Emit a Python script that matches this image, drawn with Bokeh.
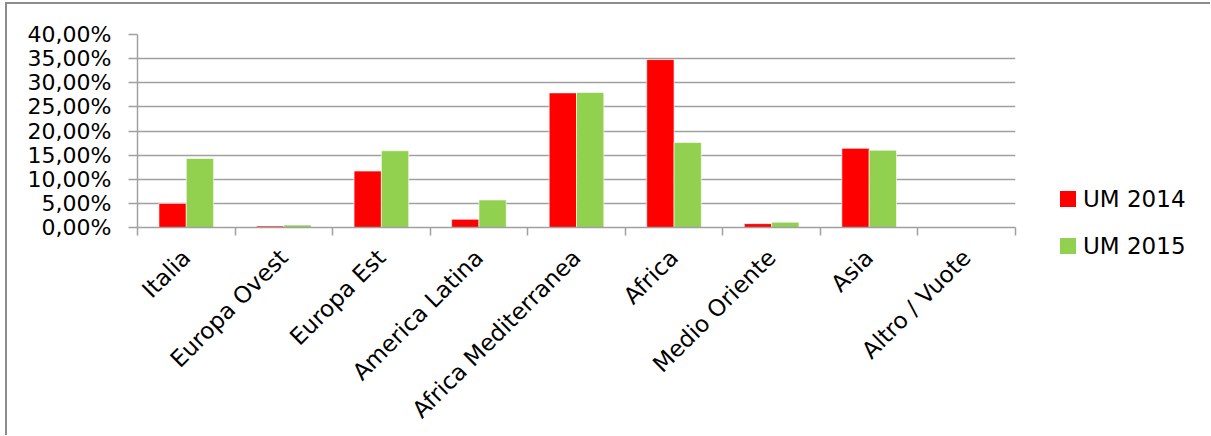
from bokeh.plotting import figure
from bokeh.models import ColumnDataSource, FixedTicker, Div
from bokeh.layouts import row
from bokeh.transform import dodge
from bokeh.embed import file_html
from bokeh.resources import INLINE
import math

regions = ["Italia", "Europa Ovest", "Europa Est", "America Latina", "Africa Mediterranea",
           "Africa", "Medio Oriente", "Asia", "Altro / Vuote"]
um2014 = [5.0, 0.3, 11.7, 1.7, 27.9, 34.8, 0.8, 16.4, 0.0]
um2015 = [14.3, 0.5, 15.9, 5.7, 28.0, 17.6, 1.1, 16.0, 0.0]
series_names = ["UM 2014", "UM 2015"]
series_colors = ["#ff0000", "#92d050"]
y_ticks = [0, 5, 10, 15, 20, 25, 30, 35, 40]
y_tick_labels = ["0,00%", "5,00%", "10,00%", "15,00%", "20,00%", "25,00%", "30,00%", "35,00%", "40,00%"]

FONT = "DejaVu Sans"
GRID = "#a0a0a0"

centers = [i + 0.5 for i in range(len(regions))]
bounds = list(range(len(regions) + 1))
src = ColumnDataSource(dict(x=centers, a=um2014, b=um2015))

p = figure(width=1013, height=431, x_range=(0, len(regions)), y_range=(0, 40),
           output_backend="svg", toolbar_location=None,
           min_border_left=130, min_border_right=5, min_border_top=30, min_border_bottom=208)
p.outline_line_color = None
p.background_fill_color = "white"
p.border_fill_color = "white"

p.vbar(x=dodge("x", -0.14, range=p.x_range), top="a", width=0.28, source=src,
       fill_color=series_colors[0], line_color="#ffffff", line_alpha=0.6, line_width=1)
p.vbar(x=dodge("x", 0.14, range=p.x_range), top="b", width=0.28, source=src,
       fill_color=series_colors[1], line_color="#ffffff", line_alpha=0.6, line_width=1)

# x axis: labels at centers, ticks at category boundaries
xa = p.xaxis[0]
xa.ticker = FixedTicker(ticks=centers, minor_ticks=bounds)
xa.major_label_overrides = {c: n for c, n in zip(centers, regions)}
xa.major_label_orientation = math.pi / 4
xa.major_tick_out = 0
xa.major_tick_in = 0
xa.minor_tick_out = 8
xa.minor_tick_in = 0
xa.minor_tick_line_color = GRID
xa.minor_tick_line_width = 1.5
xa.axis_line_color = GRID
xa.axis_line_width = 1.5
xa.major_label_text_font = FONT
xa.major_label_text_font_size = "23px"
xa.major_label_text_color = "#000000"
xa.major_label_standoff = 18

ya = p.yaxis[0]
ya.ticker = FixedTicker(ticks=y_ticks, minor_ticks=[])
ya.major_label_overrides = {t: l for t, l in zip(y_ticks, y_tick_labels)}
ya.major_tick_out = 9
ya.major_tick_in = 0
ya.major_tick_line_color = GRID
ya.major_tick_line_width = 1.5
ya.axis_line_color = GRID
ya.axis_line_width = 1.5
ya.major_label_text_font = FONT
ya.major_label_text_font_size = "22px"
ya.major_label_text_color = "#000000"
ya.major_label_standoff = 17

p.xgrid.grid_line_color = None
p.ygrid.grid_line_color = GRID
p.ygrid.grid_line_width = 1.5

# legend panel (HTML)
items_html = ""
for i, (n, c) in enumerate(zip(series_names, series_colors)):
    top = 187 + 47 * i
    items_html += (
        f'<div style="position:absolute;left:40px;top:{top}px;width:16px;height:16px;background:{c};"></div>'
        f'<div style="position:absolute;left:63px;top:{top - 6}px;height:28px;line-height:28px;'
        f'font-family:\'{FONT}\';font-size:23px;color:#000;white-space:nowrap;">{n}</div>'
    )
lg = Div(text=f'<div style="position:relative;width:186px;height:420px;overflow:hidden;">{items_html}</div>',
         width=190, height=431, margin=0, styles={"overflow": "hidden"})

layout = row(p, lg, spacing=0)
layout.styles = {"border-top": "2px solid #8c8c8c", "border-left": "2px solid #8c8c8c",
                 "margin-left": "5px", "margin-top": "2px"}

open("out.html", "w").write(file_html(layout, INLINE))
